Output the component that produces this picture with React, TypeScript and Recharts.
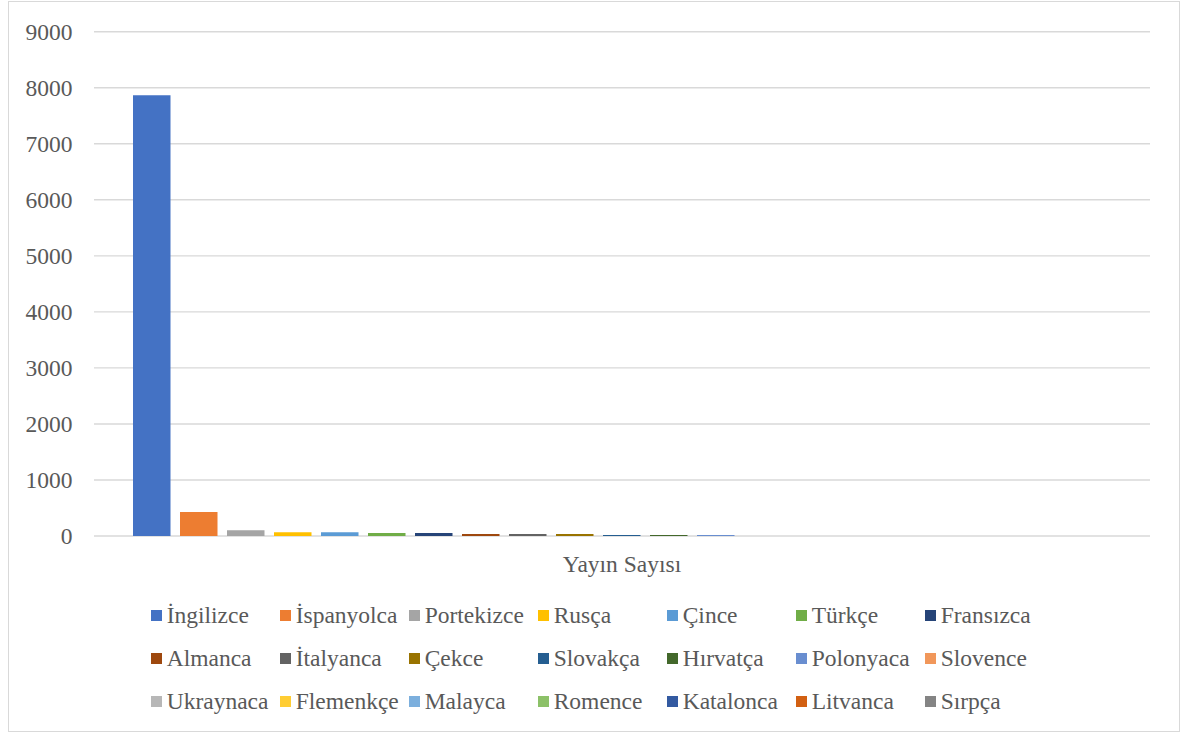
import { BarChart, Bar, XAxis, YAxis, CartesianGrid } from 'recharts'

// Dil bazında yayın sayıları
const CATEGORIES = ['Yayın Sayısı']

const LANGUAGES = [
  'İngilizce', 'İspanyolca', 'Portekizce', 'Rusça', 'Çince', 'Türkçe', 'Fransızca',
  'Almanca', 'İtalyanca', 'Çekce', 'Slovakça', 'Hırvatça', 'Polonyaca', 'Slovence',
  'Ukraynaca', 'Flemenkçe', 'Malayca', 'Romence', 'Katalonca', 'Litvanca', 'Sırpça',
]

const COUNTS = [
  7865, 430, 102, 67, 66, 53, 53,
  36, 36, 36, 18, 18, 18, 1,
  1, 1, 1, 1, 1, 1, 1,
]

const Y_TICKS = [0, 1000, 2000, 3000, 4000, 5000, 6000, 7000, 8000, 9000]

// Office palette
const COLORS = [
  '#4472C4', '#ED7D31', '#A5A5A5', '#FFC000', '#5B9BD5', '#70AD47', '#264478',
  '#9E480E', '#636363', '#997300', '#255E91', '#43682B', '#698ED0', '#F1975A',
  '#B7B7B7', '#FFCD33', '#7CAFDD', '#8CC168', '#335AA1', '#D26012', '#848484',
]

const FONT = "'Liberation Serif', 'DejaVu Serif', serif"
const TEXT = '#595959'
const GRID = '#d9d9d9'

const data = CATEGORIES.map(name => {
  const row: Record<string, string | number> = { name }
  LANGUAGES.forEach((_, i) => { row[`s${i}`] = COUNTS[i] })
  return row
})

function LegendGrid() {
  const rows: number[][] = []
  for (let i = 0; i < LANGUAGES.length; i += 7) {
    rows.push(LANGUAGES.slice(i, i + 7).map((_, j) => i + j))
  }
  return (
    <div style={{ position: 'absolute', left: 150.7, top: 593.5, fontFamily: FONT, fontSize: 23.5, color: TEXT }}>
      {rows.map((r, ri) => (
        <div key={ri} style={{ display: 'flex', height: 43 }}>
          {r.map(i => (
            <div key={i} style={{ width: 129, display: 'flex', alignItems: 'center', whiteSpace: 'nowrap' }}>
              <span style={{ width: 11, height: 11, background: COLORS[i], marginRight: 5, flexShrink: 0 }} />
              <span>{LANGUAGES[i]}</span>
            </div>
          ))}
        </div>
      ))}
    </div>
  )
}

export default function App() {
  return (
    <div style={{ position: 'absolute', left: 0, top: 0, width: 1180, height: 733, background: '#fff', fontFamily: FONT }}>
      <div
        style={{
          position: 'absolute', left: 8, top: 1, width: 1172, height: 731,
          border: `1px solid ${GRID}`, boxSizing: 'border-box',
        }}
      />
      <div style={{ position: 'absolute', left: 0, top: 0 }}>
        <BarChart
          width={1180}
          height={733}
          data={data}
          margin={{ top: 31.7, right: 30, left: 10, bottom: 157 }}
          barSize={37.5}
          barGap={9.5}
          style={{ fontFamily: FONT }}
        >
          <CartesianGrid vertical={false} stroke={GRID} strokeWidth={1.4} />
          <XAxis
            dataKey="name"
            height={40}
            axisLine={false}
            tickLine={false}
            tickSize={0}
            tickMargin={19}
            tick={{ fontSize: 23.5, fill: TEXT, fontFamily: FONT }}
          />
          <YAxis
            width={84}
            domain={[0, 9000]}
            ticks={Y_TICKS}
            interval={0}
            axisLine={false}
            tickLine={false}
            tickSize={0}
            tickMargin={21.5}
            tick={{ fontSize: 23.5, fill: TEXT, fontFamily: FONT }}
          />
          {LANGUAGES.map((lang, i) => (
            <Bar key={lang} dataKey={`s${i}`} name={lang} fill={COLORS[i]} isAnimationActive={false} />
          ))}
        </BarChart>
      </div>
      <LegendGrid />
    </div>
  )
}
